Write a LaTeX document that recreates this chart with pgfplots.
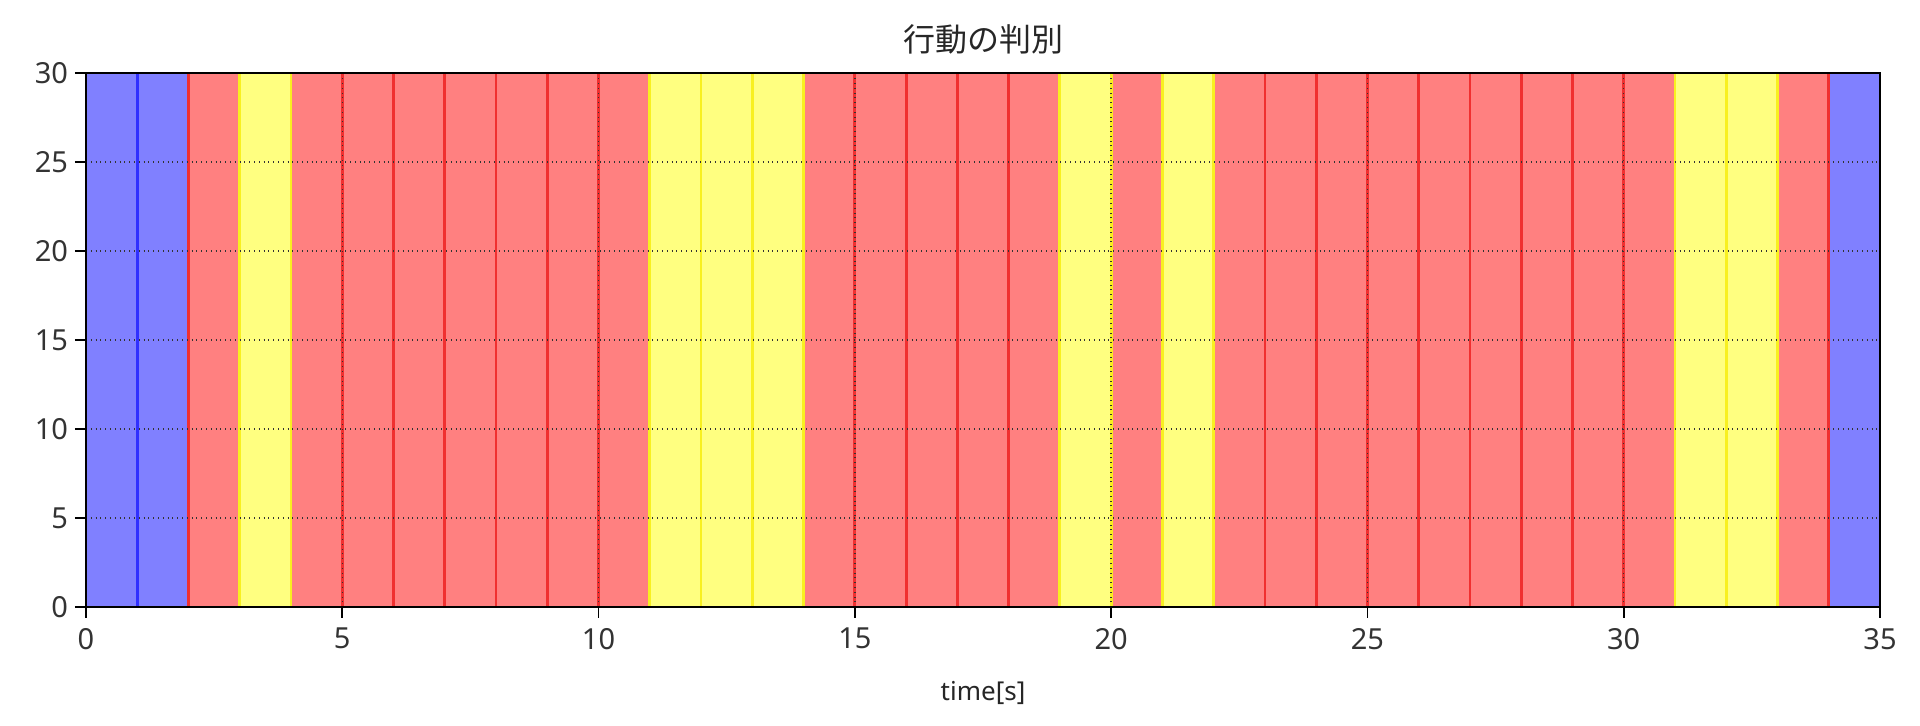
\documentclass[border=0pt]{standalone}
\usepackage{fontspec}
\setmainfont{Noto Sans}
\newfontfamily\jp{Noto Sans CJK JP}
\usepackage{pgfplots}
\pgfplotsset{compat=1.18}

\definecolor{bfill}{HTML}{8080FF}
\definecolor{rfill}{HTML}{FF8080}
\definecolor{yfill}{HTML}{FFFF80}
\definecolor{bedge}{HTML}{3030FF}
\definecolor{redge}{HTML}{F03030}
\definecolor{yedge}{HTML}{F8F020}

\begin{document}
\begin{tikzpicture}
\begin{axis}[
    scale only axis,
    width=897pt, height=267pt,
    xmin=0, xmax=35, ymin=0, ymax=30,
    xtick={0,5,...,35}, ytick={0,5,...,30},
    tick align=outside, tick pos=left,
    major tick length=5.5pt,
    every tick/.style={black, line width=0.9pt},
    axis line style={black, line width=0.9pt},
    grid=major,
    major grid style={black!80, dotted, line width=0.7pt},
    axis on top,
    ybar, bar width=1, bar shift=0,
    /pgf/number format/assume math mode=true,
    ticklabel style={font=\fontsize{14.5}{16}\selectfont, text=black!80},
    xticklabel style={yshift=-1.5pt},
    title={\jp 行動の判別},
    title style={font=\jp\fontsize{16}{18}\selectfont, text=black!85, yshift=0pt},
    xlabel={time[s]},
    xlabel style={font=\fontsize{13}{15}\selectfont, text=black!85, yshift=-9pt},
]
% blue
\addplot[fill=bfill, draw=bedge, line width=1.4pt] coordinates {
    (0.5,30) (1.5,30) (34.5,30)
};
% red
\addplot[fill=rfill, draw=redge, line width=1.4pt] coordinates {
    (2.5,30) (4.5,30) (5.5,30) (6.5,30) (7.5,30) (8.5,30) (9.5,30) (10.5,30)
    (14.5,30) (15.5,30) (16.5,30) (17.5,30) (18.5,30) (20.5,30)
    (22.5,30) (23.5,30) (24.5,30) (25.5,30) (26.5,30) (27.5,30) (28.5,30) (29.5,30) (30.5,30)
    (33.5,30)
};
% yellow
\addplot[fill=yfill, draw=yedge, line width=1.4pt] coordinates {
    (3.5,30) (11.5,30) (12.5,30) (13.5,30) (19.5,30) (21.5,30) (31.5,30) (32.5,30)
};
\end{axis}
\pgfresetboundingbox
\path[use as bounding box] (current axis.south west) ++(-43pt,-59.5pt) rectangle ([shift={(20pt,36.5pt)}]current axis.north east);
\end{tikzpicture}
\end{document}
